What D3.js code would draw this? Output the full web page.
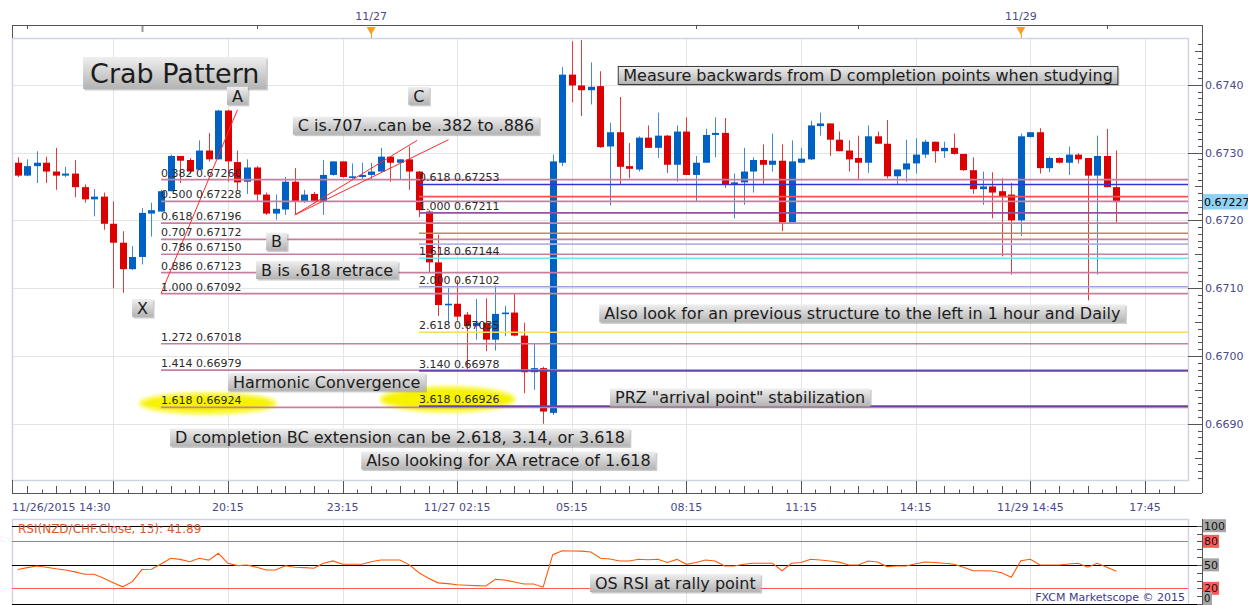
<!DOCTYPE html>
<html><head><meta charset="utf-8">
<script src="https://cdn.jsdelivr.net/npm/d3@7"></script>
<style>
body{margin:0;background:#fff;}
svg{display:block;font-family:"DejaVu Sans",Verdana,sans-serif;}
</style>
</head><body>
<svg id="c" width="1248" height="605"></svg>
<script>
// ---------------- DATA ----------------
const opens = [0.67285,0.67266,0.67280,0.67285,0.67272,0.67266,0.67269,0.67249,0.67231,0.67235,
0.67195,0.67167,0.67128,0.67146,0.67210,0.67213,0.67243,0.67295,0.67289,0.67275,
0.67303,0.67290,0.67362,0.67286,0.67257,0.67278,0.67238,0.67210,0.67216,0.67257,
0.67228,0.67239,0.67228,0.67267,0.67287,0.67263,0.67264,0.67267,0.67272,0.67294,
0.67285,0.67290,0.67272,0.67213,0.67138,0.67075,0.67077,0.67061,0.67044,0.67049,
0.67024,0.67062,0.67064,0.67030,0.66976,0.66982,0.66916,0.67285,0.67415,0.67399,
0.67392,0.67398,0.67309,0.67330,0.67280,0.67275,0.67322,0.67307,0.67325,0.67282,
0.67331,0.67267,0.67285,0.67326,0.67329,0.67253,0.67256,0.67272,0.67289,0.67282,
0.67288,0.67197,0.67285,0.67290,0.67339,0.67343,0.67319,0.67303,0.67292,0.67285,
0.67324,0.67313,0.67265,0.67275,0.67284,0.67297,0.67316,0.67302,0.67307,0.67298,
0.67274,0.67246,0.67250,0.67243,0.67238,0.67200,0.67323,0.67330,0.67277,0.67292,
0.67285,0.67297,0.67292,0.67266,0.67295,0.67249];
const highs = [0.67293,0.67290,0.67302,0.67294,0.67307,0.67279,0.67289,0.67253,0.67246,0.67241,
0.67228,0.67184,0.67162,0.67218,0.67226,0.67245,0.67297,0.67295,0.67292,0.67318,
0.67329,0.67363,0.67363,0.67303,0.67290,0.67280,0.67241,0.67238,0.67264,0.67277,
0.67245,0.67242,0.67289,0.67287,0.67287,0.67284,0.67285,0.67285,0.67307,0.67294,
0.67290,0.67309,0.67273,0.67215,0.67179,0.67100,0.67112,0.67065,0.67084,0.67085,
0.67104,0.67074,0.67092,0.67049,0.67019,0.66984,0.67297,0.67426,0.67464,0.67466,
0.67433,0.67420,0.67344,0.67382,0.67314,0.67324,0.67340,0.67359,0.67326,0.67340,
0.67352,0.67295,0.67335,0.67352,0.67351,0.67269,0.67307,0.67293,0.67312,0.67328,
0.67312,0.67318,0.67307,0.67347,0.67359,0.67343,0.67331,0.67318,0.67325,0.67340,
0.67331,0.67348,0.67275,0.67319,0.67321,0.67319,0.67316,0.67316,0.67328,0.67298,
0.67293,0.67272,0.67271,0.67262,0.67255,0.67328,0.67330,0.67336,0.67294,0.67293,
0.67309,0.67299,0.67292,0.67325,0.67335,0.67303];
const lows = [0.67264,0.67265,0.67255,0.67255,0.67245,0.67264,0.67234,0.67226,0.67206,0.67186,
0.67100,0.67093,0.67127,0.67135,0.67176,0.67213,0.67243,0.67255,0.67269,0.67275,
0.67287,0.67290,0.67257,0.67245,0.67239,0.67228,0.67208,0.67201,0.67208,0.67208,
0.67226,0.67225,0.67208,0.67266,0.67263,0.67260,0.67260,0.67260,0.67271,0.67257,
0.67260,0.67245,0.67205,0.67122,0.67059,0.67049,0.67052,0.66980,0.67024,0.67007,
0.67008,0.67029,0.67029,0.66945,0.66950,0.66900,0.66913,0.67280,0.67374,0.67354,
0.67371,0.67307,0.67222,0.67253,0.67262,0.67272,0.67307,0.67292,0.67270,0.67257,
0.67267,0.67228,0.67285,0.67293,0.67248,0.67203,0.67223,0.67241,0.67254,0.67272,
0.67184,0.67197,0.67285,0.67289,0.67325,0.67295,0.67302,0.67272,0.67260,0.67270,
0.67313,0.67262,0.67253,0.67257,0.67269,0.67292,0.67285,0.67292,0.67297,0.67273,
0.67239,0.67223,0.67203,0.67147,0.67120,0.67177,0.67322,0.67269,0.67271,0.67284,
0.67267,0.67284,0.67082,0.67120,0.67249,0.67197];
const closes = [0.67266,0.67280,0.67285,0.67272,0.67266,0.67269,0.67249,0.67231,0.67235,0.67195,
0.67167,0.67128,0.67146,0.67211,0.67215,0.67243,0.67295,0.67288,0.67272,0.67303,
0.67290,0.67362,0.67287,0.67256,0.67278,0.67238,0.67210,0.67217,0.67257,0.67228,
0.67238,0.67228,0.67267,0.67287,0.67264,0.67265,0.67267,0.67272,0.67294,0.67285,
0.67290,0.67272,0.67215,0.67138,0.67075,0.67077,0.67058,0.67044,0.67049,0.67024,
0.67062,0.67064,0.67030,0.66976,0.66982,0.66918,0.67287,0.67415,0.67399,0.67392,
0.67397,0.67308,0.67330,0.67279,0.67276,0.67322,0.67307,0.67325,0.67282,0.67331,
0.67267,0.67285,0.67326,0.67329,0.67253,0.67256,0.67272,0.67289,0.67282,0.67288,
0.67197,0.67287,0.67291,0.67340,0.67343,0.67319,0.67302,0.67290,0.67285,0.67324,
0.67313,0.67265,0.67275,0.67284,0.67297,0.67316,0.67302,0.67307,0.67298,0.67274,
0.67246,0.67250,0.67241,0.67236,0.67200,0.67324,0.67330,0.67277,0.67292,0.67285,
0.67297,0.67290,0.67266,0.67295,0.67249,0.67227];
const rsiValues = [44,46.5,48.5,47,45,43.4,41,38,38,33,
27,22,28.5,44,44.3,51,58.4,57,54,58.4,
56,64.8,52,49,49.8,47,43.4,43.4,48.9,46.9,
46.5,45.6,52,55,50.7,50.7,50.7,54,56.2,56.2,
56.2,50,40,33,27,26,24.5,24,23.5,23,
31.5,30.7,28,25.5,25.5,21.5,63,68,67.7,67.5,
66.5,58.4,57.5,55,55,57.1,56.5,57.1,53,57,
50.7,53,56.2,55,48.5,48.5,50.7,52,52,52,
42.5,52,53,57.1,56.2,55,53.5,49.8,49.8,54.9,
53.6,47.8,48.5,48.5,51.5,53.6,53,52,50.7,46.9,
42.5,42.4,42.2,40,34.1,55.3,57.1,49.8,49.8,49.8,
51,52,46.9,52,46.9,41.89];

const xTickIndex = [-1,22,34,46,58,70,82,94,106,118];
const xTickLabels = ["11/26/2015 14:30","20:15","23:15","11/27 02:15","05:15","08:15","11:15","14:15","11/29 14:45","17:45"];
const gridIndex = [10,22,34,46,58,70,82,94,106,118];
const dayMarkIndex = [37,105];
const dayMarkLabels = ["11/27","11/29"];
const topTickIndex = [1,13,25,71,88,114];
const priceTicks = [0.6690,0.6700,0.6710,0.6720,0.6730,0.6740];
const rsiLevels = [100,80,50,20,0];

// XA retracement (anchored at candle 15)
const xaStart = 15;
const xaLevels = [0.382,0.500,0.618,0.707,0.786,0.886,1.000,1.272,1.414,1.618];
const xaPrices = [0.67260,0.67228,0.67196,0.67172,0.67150,0.67123,0.67092,0.67018,0.66979,0.66924];
// BC extension (anchored at candle 42)
const bcStart = 42;
const bcLevels = [0.618,0.786,1.000,1.272,1.414,1.618,2.000,2.618,3.140,3.618];
const bcPrices = [0.67253,0.67235,0.67211,0.67181,0.67165,0.67144,0.67102,0.67035,0.66978,0.66926];
const bcLabelShown = [true,false,true,false,false,true,true,true,true,true];
const bcColors = ["#3434d4","#ff4f4f","#9a4fa6","#c8865a","#b2b2e8","#6fe6f5","#a2a2d8","#f6dc62","#6148a8","#6148a8"];

// pattern legs [index, price]
const legXA = [[15,0.67092],[23,0.67363]];
const legBC1 = [[29,0.67208],[41.8,0.67318]];
const legBC2 = [[29,0.67208],[45.1,0.67319]];

// highlight ellipses [index, price]
const ellipseCenters = [[19.9,0.66930],[45.0,0.66936]];

// annotations anchored at [index, price] (top-left)
const noteTexts = ["Crab Pattern","A","C","C is.707...can be .382 to .886","B","B is .618 retrace","X",
 "Harmonic Convergence","D completion BC extension can be 2.618, 3.14, or 3.618","Also looking for XA retrace of 1.618",
 "Measure backwards from D completion points when studying","Also look for an previous structure to the left in 1 hour and Daily",
 "PRZ \"arrival point\" stabilization"];
const noteIndex = [6.84,21.9,40.87,28.8,26.0,24.95,11.97,22.0,15.95,35.95,62.86,60.87,62.0];
const notePrice = [0.67441,0.67397,0.67397,0.67353,0.67182,0.67140,0.67084,0.66975,0.66893,0.66859,0.67427,0.67076,0.66952];
const rsiNoteText = "OS RSI at rally point";
const rsiNoteAnchor = [59.9, 38.3];
const rsiSymbol = "NZD/CHF", rsiPeriod = 13;

// ---------------- LAYOUT ----------------
const plot = {l:12, r:1188, t:38, b:480};
const axisX = 1202, axisY = 493;
const rsiBox = {t:519, b:605};
const svg = d3.select("#c");
const x = d3.scaleLinear().domain([-0.6,122.5]).range([plot.l, plot.r]);
const y = d3.scaleLinear().domain([0.66817,0.67469]).range([plot.b, plot.t]);
const ry = d3.scaleLinear().domain([0,100]).range([604,525.7]);
const AX = "#4a4a88";

const defs = svg.append("defs");
defs.append("clipPath").attr("id","clipMain").append("rect")
  .attr("x",plot.l).attr("y",plot.t).attr("width",plot.r-plot.l).attr("height",plot.b-plot.t);
defs.append("clipPath").attr("id","clipRsi").append("rect")
  .attr("x",plot.l).attr("y",rsiBox.t).attr("width",plot.r-plot.l).attr("height",rsiBox.b-rsiBox.t);
const grad = defs.append("linearGradient").attr("id","boxg").attr("x1",0).attr("y1",0).attr("x2",0).attr("y2",1);
grad.append("stop").attr("offset","0%").attr("stop-color","#efefef");
grad.append("stop").attr("offset","100%").attr("stop-color","#b3b3b3");
const glow = defs.append("filter").attr("id","glow").attr("x","-20%").attr("y","-60%").attr("width","140%").attr("height","220%");
glow.append("feGaussianBlur").attr("stdDeviation",1.4);

const px = v => Math.round(v)+0.5;

// ---------- main grid ----------
const gGrid = svg.append("g");
gGrid.selectAll("line.vg").data(gridIndex).join("line")
  .attr("x1",d=>px(x(d))).attr("x2",d=>px(x(d))).attr("y1",plot.t).attr("y2",plot.b)
  .attr("stroke","#e4e4e4");
gGrid.selectAll("line.hg").data(priceTicks).join("line")
  .attr("x1",plot.l).attr("x2",plot.r).attr("y1",d=>px(y(d))).attr("y2",d=>px(y(d)))
  .attr("stroke","#e4e4e4");
svg.append("rect").attr("x",plot.l+0.5).attr("y",plot.t+0.5).attr("width",plot.r-plot.l).attr("height",plot.b-plot.t)
  .attr("fill","none").attr("stroke","#cdd5e3").attr("stroke-width",1.5);

// ---------- candles ----------
const candles = opens.map((o,i)=>({i,o,h:highs[i],l:lows[i],c:closes[i]}));
const gC = svg.append("g").attr("clip-path","url(#clipMain)");
const up = d => d.c >= d.o;
gC.selectAll("line.wick").data(candles).join("line")
  .attr("x1",d=>px(x(d.i))).attr("x2",d=>px(x(d.i)))
  .attr("y1",d=>y(d.h)).attr("y2",d=>y(d.l))
  .attr("stroke",d=>up(d)?"#3f89d6":"#e23a3a").attr("stroke-width",1);
gC.selectAll("rect.body").data(candles).join("rect")
  .attr("x",d=>Math.round(x(d.i))-3).attr("width",7)
  .attr("y",d=>y(Math.max(d.o,d.c)))
  .attr("height",d=>Math.max(1.6,Math.abs(y(d.o)-y(d.c))))
  .attr("fill",d=>up(d)?"#0061c5":"#dc0000");

// ---------- ellipses ----------
const gOv = svg.append("g").attr("clip-path","url(#clipMain)");
gOv.selectAll("ellipse").data(ellipseCenters).join("ellipse")
  .attr("cx",d=>x(d[0])).attr("cy",d=>y(d[1])).attr("rx",(d,i)=>i?67:68).attr("ry",(d,i)=>i?12.5:10.5)
  .attr("fill","#f6f200").attr("stroke","#fbfb70").attr("stroke-width",3).attr("filter","url(#glow)");

// ---------- fib lines ----------
gOv.selectAll("line.xa").data(xaPrices).join("line")
  .attr("x1",x(xaStart)).attr("x2",plot.r).attr("y1",d=>y(d)).attr("y2",d=>y(d))
  .attr("stroke","#c67fa0").attr("stroke-width",1.7);
gOv.selectAll("line.bc").data(bcPrices).join("line")
  .attr("x1",x(bcStart)).attr("x2",plot.r).attr("y1",d=>y(d)).attr("y2",d=>y(d))
  .attr("stroke",(d,i)=>bcColors[i]).attr("stroke-width",1.6);

// ---------- legs ----------
[legXA,legBC1,legBC2].forEach(L=>{
  gOv.append("line").attr("x1",x(L[0][0])).attr("y1",y(L[0][1])).attr("x2",x(L[1][0])).attr("y2",y(L[1][1]))
    .attr("stroke","#ff2b2b").attr("stroke-width",1);
});

// ---------- fib labels ----------
const gLab = svg.append("g").style("font-size","11px").attr("fill","#2a2a2a");
gLab.selectAll("text.xa").data(xaPrices).join("text")
  .attr("x",x(xaStart)).attr("y",d=>y(d)-3)
  .text((d,i)=>xaLevels[i].toFixed(3)+" "+d.toFixed(5));
gLab.selectAll("text.bc").data(bcPrices.map((p,i)=>({p,i})).filter(d=>bcLabelShown[d.i])).join("text")
  .attr("x",x(bcStart)).attr("y",d=>y(d.p)-3)
  .text(d=>bcLevels[d.i].toFixed(3)+" "+d.p.toFixed(5));

// ---------- annotation boxes ----------
function noteBox(g, xPos, yTop, txt, fs, border){
  const big = fs>20, pad = big?7:5, h = big?32:18;
  const grp = g.append("g");
  const t = grp.append("text").attr("x",xPos+pad).attr("y",yTop+h/2).attr("dy","0.36em")
    .style("font-size",fs+"px").attr("fill","#1c1c1c").text(txt);
  const w = t.node().getComputedTextLength()+2*pad;
  grp.insert("rect","text").attr("x",xPos+1.5).attr("y",yTop+1.5).attr("width",w).attr("height",h)
    .attr("fill","#8a8a8a").attr("opacity",0.45);
  grp.insert("rect","text").attr("x",xPos).attr("y",yTop).attr("width",w).attr("height",h)
    .attr("fill","url(#boxg)").attr("stroke",border?"#3a3a3a":"none");
}
const gNotes = svg.append("g");
noteTexts.forEach((t,i)=>{
  noteBox(gNotes, x(noteIndex[i]), y(notePrice[i]), t, i===0?27:16, i===10);
});

// ---------- top bar ----------
svg.append("line").attr("x1",plot.l).attr("x2",axisX).attr("y1",25.5).attr("y2",25.5).attr("stroke","#555");
svg.append("line").attr("x1",plot.l+0.5).attr("x2",plot.l+0.5).attr("y1",25).attr("y2",plot.t).attr("stroke","#555");
svg.selectAll("line.tt").data(topTickIndex).join("line")
  .attr("x1",d=>px(x(d))).attr("x2",d=>px(x(d))).attr("y1",26).attr("y2",(d,i)=>i===1?32:29)
  .attr("stroke",(d,i)=>i===1?"#999":"#555").attr("stroke-width",(d,i)=>i===1?2:1);
svg.selectAll("path.dm").data(dayMarkIndex).join("path")
  .attr("d",d=>{const c=x(d);return `M${c-4.5},27 L${c+4.5},27 L${c},35 Z`;})
  .attr("fill","#f5a21e");
svg.selectAll("line.dms").data(dayMarkIndex).join("line")
  .attr("x1",d=>px(x(d))).attr("x2",d=>px(x(d))).attr("y1",34).attr("y2",38).attr("stroke","#f5a21e");
svg.selectAll("text.dm").data(dayMarkIndex).join("text")
  .attr("x",d=>x(d)).attr("y",20).attr("text-anchor","middle").style("font-size","11px").attr("fill",AX)
  .text((d,i)=>dayMarkLabels[i]);

// ---------- right price axis ----------
svg.append("line").attr("x1",axisX+0.5).attr("x2",axisX+0.5).attr("y1",25).attr("y2",axisY).attr("stroke","#555");
const minorP = d3.range(6682,6747).map(v=>v/10000);
svg.selectAll("line.pt").data(minorP).join("line")
  .attr("x1",d=>{const m=Math.round(d*10000); return axisX-(m%10===0?14:(m%5===0?7:4));})
  .attr("x2",axisX).attr("y1",d=>px(y(d))).attr("y2",d=>px(y(d))).attr("stroke","#555");
svg.selectAll("text.pl").data(priceTicks).join("text")
  .attr("x",axisX+3).attr("y",d=>y(d)).attr("dy","0.36em").style("font-size","11px").attr("fill",AX)
  .text(d=>d.toFixed(4));
const last = closes[closes.length-1];
svg.append("rect").attr("x",axisX+1).attr("y",y(last)-8).attr("width",46).attr("height",15.5).attr("fill","#8fd2f5");
svg.append("text").attr("x",axisX+2).attr("y",y(last)).attr("dy","0.36em").style("font-size","11px").attr("fill","#000")
  .text(last.toFixed(5));

// ---------- bottom time axis ----------
svg.append("line").attr("x1",plot.l).attr("x2",axisX).attr("y1",axisY+0.5).attr("y2",axisY+0.5).attr("stroke","#555");
svg.append("line").attr("x1",plot.l+0.5).attr("x2",plot.l+0.5).attr("y1",plot.b).attr("y2",axisY).attr("stroke","#555");
svg.selectAll("line.xt").data(gridIndex).join("line")
  .attr("x1",d=>px(x(d))).attr("x2",d=>px(x(d))).attr("y1",plot.b+1).attr("y2",axisY).attr("stroke","#555");
const minorIdx = d3.range(-7,76).map(j=>({j,k:gridIndex[0]+1.5*j})).filter(d=>d.j%8!==0 && x(d.k)>plot.l+2 && x(d.k)<plot.r);
svg.selectAll("line.xm").data(minorIdx).join("line")
  .attr("x1",d=>px(x(d.k))).attr("x2",d=>px(x(d.k))).attr("y1",d=>axisY-((d.j%2===0)?7:3.5)).attr("y2",axisY).attr("stroke","#555");
svg.selectAll("text.xl").data(xTickIndex).join("text")
  .attr("x",(d,i)=>i===0?plot.l:x(d)).attr("y",511).attr("text-anchor",(d,i)=>i===0?"start":"middle")
  .style("font-size","11px").attr("fill",AX).text((d,i)=>xTickLabels[i]);

// ---------- RSI panel ----------
const gR = svg.append("g");
gR.selectAll("line.rvg").data(gridIndex).join("line")
  .attr("x1",d=>px(x(d))).attr("x2",d=>px(x(d))).attr("y1",rsiBox.t).attr("y2",rsiBox.b).attr("stroke","#e4e4e4");
gR.append("line").attr("x1",plot.l).attr("x2",plot.r).attr("y1",rsiBox.t+0.5).attr("y2",rsiBox.t+0.5).attr("stroke","#cdd5e3").attr("stroke-width",1.5);
gR.append("line").attr("x1",plot.l+0.5).attr("x2",plot.l+0.5).attr("y1",rsiBox.t).attr("y2",rsiBox.b).attr("stroke","#cdd5e3").attr("stroke-width",1.5);
gR.append("line").attr("x1",plot.r+0.5).attr("x2",plot.r+0.5).attr("y1",rsiBox.t).attr("y2",rsiBox.b).attr("stroke","#cdd5e3").attr("stroke-width",1.5);
gR.selectAll("line.rl").data(rsiLevels).join("line")
  .attr("x1",plot.l).attr("x2",d=>(d===80||d===20)?plot.r:axisX)
  .attr("y1",d=>px(ry(d))).attr("y2",d=>px(ry(d)))
  .attr("stroke",d=>(d===80||d===20)?"#ff5858":"#000").attr("stroke-width",1);
gR.append("path").datum(rsiValues).attr("clip-path","url(#clipRsi)")
  .attr("d",d3.line().x((d,i)=>x(i)).y(d=>ry(d)))
  .attr("fill","none").attr("stroke","#ff5a0a").attr("stroke-width",1.1);
gR.append("text").attr("x",18).attr("y",533).style("font-size","12px").attr("fill","#e0582a")
  .text(`RSI(${rsiSymbol}.Close, ${rsiPeriod}): ${rsiValues[rsiValues.length-1].toFixed(2)}`);
gR.append("line").attr("x1",axisX+0.5).attr("x2",axisX+0.5).attr("y1",rsiBox.t).attr("y2",rsiBox.b).attr("stroke","#555");
gR.selectAll("line.rt").data(d3.range(0,101,10)).join("line")
  .attr("x1",axisX-5).attr("x2",axisX).attr("y1",d=>px(ry(d))).attr("y2",d=>px(ry(d))).attr("stroke","#555");
// label centre, kept inside the picture for the bottom one
const rlabY = d => Math.min(ry(d), 598.5);
const rl = gR.selectAll("g.rlab").data(rsiLevels).join("g");
rl.append("rect").attr("x",axisX+1).attr("y",d=>rlabY(d)-6.5).attr("height",13)
  .attr("width",d=>String(d).length*7+2).attr("fill",d=>(d===80||d===20)?"#ff5b5b":"#a5a5a5");
rl.append("text").attr("x",axisX+2).attr("y",d=>rlabY(d)).attr("dy","0.36em").style("font-size",d=>d===0?"10px":"11px").attr("fill","#111").text(d=>d);
noteBox(gR, x(rsiNoteAnchor[0]), ry(rsiNoteAnchor[1]), rsiNoteText, 16, false);
gR.append("text").attr("x",plot.r-3).attr("y",601).attr("text-anchor","end").style("font-size","11px").attr("fill","#3b3b8a")
  .text("FXCM Marketscope \u00A9 2015");
</script>
</body></html>
